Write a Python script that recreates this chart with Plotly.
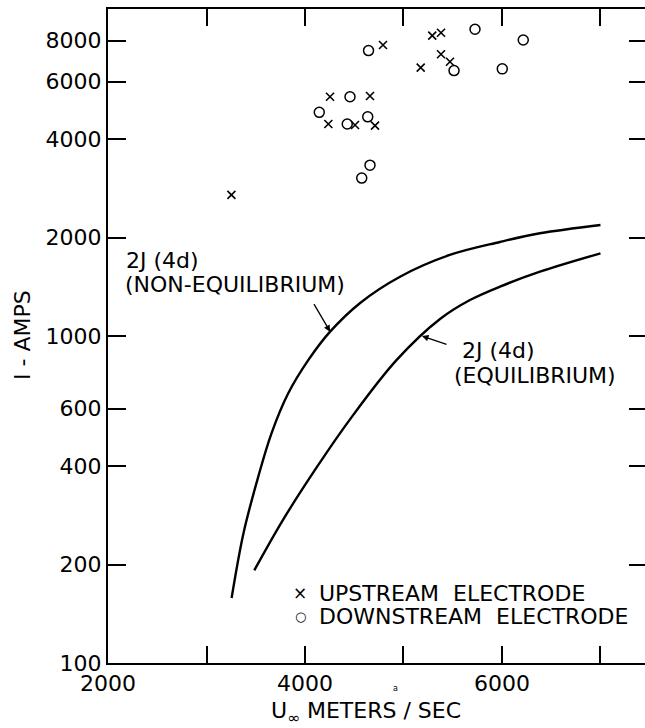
import plotly.graph_objects as go
import numpy as np

# Measured arc current vs. free-stream velocity
upstream_u = [3253, 4254, 4660, 4237, 4508, 4711, 4792, 5175, 5292, 5381, 5381, 5472]
upstream_i = [2700, 5390, 5420, 4450, 4420, 4400, 7760, 6620, 8290, 8460, 7270, 6900]

downstream_u = [4457, 4145, 4429, 4637, 4660, 4576, 4645, 5726, 6216, 5513, 6003]
downstream_i = [5390, 4830, 4450, 4680, 3330, 3040, 7460, 8670, 8040, 6480, 6560]

# Theoretical 2J(4d) curves
noneq_u = [3255, 3375, 3525, 3660, 3830, 4035, 4255, 4560, 4965, 5470, 5980, 6385, 7000]
noneq_i = [158, 249, 371, 504, 668, 845, 1031, 1262, 1518, 1769, 1939, 2061, 2185]

eq_u = [3485, 3780, 4120, 4457, 4931, 5371, 5675, 5980, 6386, 7000]
eq_i = [192, 275, 397, 556, 845, 1127, 1288, 1416, 1573, 1790]

# Axis ticks
x_ticks = [2000, 3000, 4000, 5000, 6000, 7000]
x_ticktext = ["2000", "", "4000", "", "6000", ""]
y_ticks = [100, 200, 400, 600, 1000, 2000, 4000, 6000, 8000]
y_ticktext = ["100", "200", "400", "600", "1000", "2000", "4000", "6000", "8000"]

FONT = "DejaVu Sans"
INK = "black"
FS = 22

fig = go.Figure()

for xs, ys in ((noneq_u, noneq_i), (eq_u, eq_i)):
    fig.add_trace(go.Scatter(
        x=xs, y=ys, mode="lines",
        line=dict(color=INK, width=2.4, shape="spline", smoothing=1.0),
        showlegend=False, hoverinfo="skip"))

fig.add_trace(go.Scatter(
    x=upstream_u, y=upstream_i, mode="markers", name="UPSTREAM ELECTRODE",
    marker=dict(symbol="x-thin-open", size=8, color=INK, line=dict(color=INK, width=1.6)),
    showlegend=False))
fig.add_trace(go.Scatter(
    x=downstream_u, y=downstream_i, mode="markers", name="DOWNSTREAM ELECTRODE",
    marker=dict(symbol="circle-open", size=10, color=INK, line=dict(color=INK, width=1.5)),
    showlegend=False))

# empty trace so the right-hand tick axis is drawn
fig.add_trace(go.Scatter(x=[], y=[], yaxis="y2", showlegend=False))

fig.update_layout(
    width=645, height=728,
    margin=dict(l=108, r=0, t=9, b=65),
    paper_bgcolor="white", plot_bgcolor="white",
    font=dict(family=FONT, size=FS, color=INK),
    xaxis=dict(
        range=[2000, 7452], tickvals=x_ticks, ticktext=x_ticktext,
        ticks="inside", ticklen=17, tickwidth=1.5, tickcolor=INK,
        showline=True, linewidth=2, linecolor=INK, mirror="ticks",
        showgrid=False, zeroline=False,
        tickfont=dict(family=FONT, size=FS, color=INK),
    ),
    yaxis=dict(
        type="log", range=[2, 4], tickvals=y_ticks, ticktext=y_ticktext,
        ticks="inside", ticklen=18, tickwidth=1.5, tickcolor=INK,
        showline=True, linewidth=2, linecolor=INK, mirror=False,
        showgrid=False, zeroline=False,
        tickfont=dict(family=FONT, size=FS, color=INK),
    ),
    yaxis2=dict(
        type="log", range=[2, 4], tickvals=y_ticks, overlaying="y", side="right",
        ticks="inside", ticklen=16, tickwidth=1.5, tickcolor=INK,
        showticklabels=False, showline=False, showgrid=False, zeroline=False,
    ),
)


def px_to_paper(px, py):
    return (px - 108) / 537.0, (663 - py) / 654.0


def label(text, px, py, xanchor="left", size=FS, angle=0):
    x, y = px_to_paper(px, py)
    fig.add_annotation(text=text, x=x, y=y, xref="paper", yref="paper",
                       xanchor=xanchor, yanchor="middle", showarrow=False,
                       textangle=angle, font=dict(family=FONT, size=size, color=INK))


# curve labels
label("2J (4d)", 124, 260)
label("(NON-EQUILIBRIUM)", 123, 284)
label("2J (4d)", 460, 350)
label("(EQUILIBRIUM)", 452, 376)

# pointer arrows to the curves
fig.add_annotation(x=noneq_u[6], y=np.log10(noneq_i[6]), xref="x", yref="y",
                   ax=-17, ay=-29, showarrow=True, arrowhead=2, arrowsize=1,
                   arrowwidth=1.3, arrowcolor=INK, text="")
fig.add_annotation(x=5188, y=3.0, xref="x", yref="y",
                   ax=26, ay=9, showarrow=True, arrowhead=2, arrowsize=1,
                   arrowwidth=1.3, arrowcolor=INK, text="")

# key
label("×", 300, 593, xanchor="center", size=17)
label("UPSTREAM  ELECTRODE", 317, 593)
label("○", 300, 616, xanchor="center", size=13)
label("DOWNSTREAM  ELECTRODE", 317, 616)

# stray letter printed below the axis
label("a", 395, 688, xanchor="center", size=8)

# axis titles
label("U<sub>∞</sub> METERS / SEC", 366, 713, xanchor="center")
label("I - AMPS", 22, 335, xanchor="center", angle=-90)

fig.write_html("out.html")
